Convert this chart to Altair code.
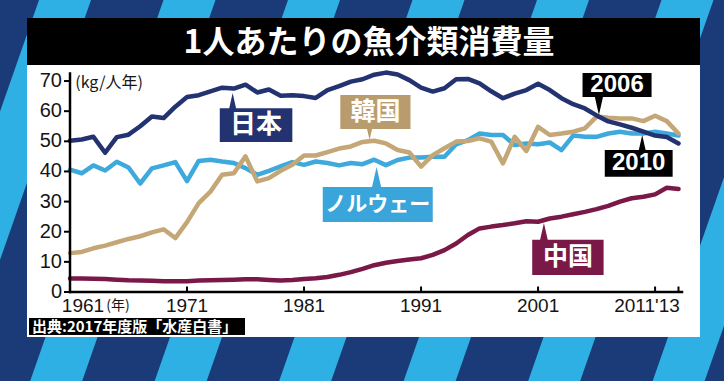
import altair as alt
import pandas as pd

# ---------------- data ----------------
years = list(range(1961, 2014))
japan = [50.2, 50.6, 51.5, 46.2, 51.4, 52.2, 55.0, 58.2, 57.7, 61.5,
         64.7, 65.3, 66.6, 67.8, 67.5, 68.8, 66.2, 67.2, 65.1, 65.3,
         65.0, 64.4, 67.0, 68.3, 69.8, 70.6, 72.1, 72.8, 72.2, 70.3,
         67.8, 66.5, 67.6, 70.6, 70.7, 69.2, 66.6, 64.3, 65.8, 67.0,
         69.1, 67.0, 64.3, 62.3, 60.9, 58.6, 56.6, 55.6, 54.5, 53.2,
         51.9, 51.4, 49.3]
korea = [12.9, 13.3, 14.5, 15.4, 16.5, 17.6, 18.5, 19.8, 20.8, 17.9,
         23.2, 29.5, 33.3, 38.9, 39.4, 45.0, 36.7, 37.8, 40.2, 42.2,
         45.3, 45.3, 46.4, 47.6, 48.3, 49.8, 50.2, 49.3, 47.1, 46.3,
         41.6, 45.4, 47.7, 49.9, 50.1, 51.0, 49.9, 42.7, 51.5, 46.8,
         54.8, 52.1, 52.6, 53.2, 54.3, 58.2, 57.8, 57.6, 57.6, 56.7,
         58.5, 56.7, 52.6]
norway = [40.6, 39.4, 42.0, 40.3, 43.2, 41.3, 36.0, 41.0, 42.0, 43.1,
          36.8, 43.5, 43.9, 43.3, 42.8, 41.1, 38.9, 40.2, 41.7, 43.1,
          42.2, 43.3, 42.8, 42.0, 42.8, 42.4, 43.9, 42.1, 43.8, 44.6,
          44.6, 44.9, 44.9, 49.0, 50.4, 52.6, 52.1, 52.1, 48.8, 49.3,
          49.0, 49.6, 47.1, 51.9, 51.5, 51.5, 52.6, 53.2, 52.6, 52.6,
          53.2, 52.6, 51.9]
china = [4.5, 4.5, 4.4, 4.3, 4.1, 3.9, 3.8, 3.7, 3.6, 3.6,
         3.6, 3.8, 3.9, 4.0, 4.1, 4.2, 4.2, 4.0, 3.8, 4.0,
         4.3, 4.6, 5.0, 5.7, 6.6, 7.7, 8.9, 9.7, 10.3, 10.8,
         11.2, 12.3, 13.9, 16.1, 18.9, 21.1, 21.7, 22.2, 22.8, 23.5,
         23.3, 24.4, 25.0, 25.8, 26.6, 27.5, 28.6, 30.0, 31.1, 31.6,
         32.4, 34.6, 34.2]
series_names = ["中国", "ノルウェー", "韓国", "日本"]
series_values = [china, norway, korea, japan]
y_ticks = [0, 10, 20, 30, 40, 50, 60, 70]
x_tick_years = [1971, 1981, 1991, 2001, 2011, 2013]
x_label_center = [1971, 1981, 1991, 2001]
title_text = "1人あたりの魚介類消費量"
source_text = "出典:2017年度版「水産白書」"
unit_text = "(kg/人年)"
callout_texts = ["日本", "韓国", "ノルウェー", "中国", "2006", "2010"]

# ---------------- styles / layout ----------------
series_colors = ["#7a1848", "#3ea9dc", "#c4a677", "#233270"]
callout_fills = ["#233270", "#b99c6e", "#3aa5da", "#7a1848", "#000000", "#000000"]
callout_fonts = [26, 25, 21, 25, 24, 24]
callout_font_family = ["Noto Sans CJK JP"] * 4 + ["Liberation Sans"] * 2
# boxes in data coordinates: x1, x2, ytop, ybottom, tip_x, tip_y
callout_boxes = [
    (1973.8, 1980.0, 61.0, 49.8, 1974.9, 66.0),
    (1984.1, 1990.1, 65.4, 54.1, 1986.6, 50.4),
    (1982.6, 1992.0, 34.8, 23.2, 1987.2, 41.5),
    (2000.5, 2006.6, 17.3, 5.6, 2001.5, 22.9),
    (2004.8, 2010.7, 72.7, 64.7, 2006.2, 58.7),
    (2006.7, 2012.5, 47.1, 38.2, 2009.9, 52.1),
]
X0, X1, Y0, Y1 = 1961, 2013.3, 0, 72.5
W, H = 612, 218.5
OX, OY = 70, 73.5            # plot origin on the page
PAGE_W, PAGE_H = 724, 381
PX_PER_UNIT = H / (Y1 - Y0)
PX_PER_YEAR = W / (X1 - X0)
DARK_BG, LIGHT_BG = "#1b3a78", "#2fb0e4"
INK = "#151515"


def page_to_data(px, py):
    return X0 + (px - OX) / PX_PER_YEAR, Y1 - (py - OY) / PX_PER_UNIT


# ---------------- tables ----------------
rows = []
for name, vals in zip(series_names, series_values):
    for yr, v in zip(years, vals):
        rows.append({"country": name, "year": yr, "value": v})
df = pd.DataFrame(rows)

# background stripes (page pixels converted to the chart's data units)
slope, period, light_w, x_at_top = 0.35, 124.5, 52, 39
stripes = []
for k in range(-2, 9):
    xc = x_at_top + light_w / 2 + k * period
    y_top, y_bot = -30, PAGE_H + 30
    ax, ay = page_to_data(xc - slope * y_top, y_top)
    bx, by = page_to_data(xc - slope * y_bot, y_bot)
    stripes.append({"sx": ax, "sy": ay, "sx2": bx, "sy2": by})
stripe_df = pd.DataFrame(stripes)
stripe_width = light_w / (1 + slope ** 2) ** 0.5

cal_rows, ptr_rows = [], []
for i, (x1, x2, yt, yb, tx, ty) in enumerate(callout_boxes):
    cal_rows.append({"x1": x1, "x2": x2, "yt": yt, "yb": yb,
                     "xm": (x1 + x2) / 2, "ym": (yt + yb) / 2,
                     "fill": callout_fills[i], "text": callout_texts[i],
                     "fs": callout_fonts[i], "ff": callout_font_family[i]})
    up = ty > yt
    base = yt if up else yb
    overlap = 3 / PX_PER_UNIT
    far = base - overlap if up else base + overlap
    side = abs(ty - far) * PX_PER_UNIT
    ptr_rows.append({"px": tx, "py": (ty + far) / 2, "psize": side ** 2,
                     "shape": "M-0.45,1L0,-1L0.45,1Z" if up else "M-0.45,-1L0,1L0.45,-1Z",
                     "fill": callout_fills[i]})
cal_df = pd.DataFrame(cal_rows)
ptr_df = pd.DataFrame(ptr_rows)

xscale = alt.Scale(domain=[X0, X1], nice=False, zero=False)
yscale = alt.Scale(domain=[Y0, Y1], nice=False)


def X(field):
    return alt.X(field, scale=xscale, axis=None)


def Y(field):
    return alt.Y(field, scale=yscale, axis=None)


def XD(v):
    return alt.XDatum(v, axis=None)


def YD(v):
    return alt.YDatum(v, axis=None)


# ---------------- layers ----------------
stripe_layer = alt.Chart(stripe_df).mark_rule(
    color=LIGHT_BG, strokeWidth=stripe_width, strokeCap="butt").encode(
    x=X("sx:Q"), y=Y("sy:Q"), x2="sx2:Q", y2="sy2:Q")

panel = alt.Chart().mark_rect(color="white").encode(
    x=alt.value(27 - OX), x2=alt.value(700 - OX),
    y=alt.value(65 - OY), y2=alt.value(337 - OY))
title_bar = alt.Chart().mark_rect(color="black").encode(
    x=alt.value(27 - OX), x2=alt.value(700 - OX),
    y=alt.value(18 - OY), y2=alt.value(65 - OY))
title = alt.Chart().mark_text(
    text=title_text, color="white", fontSize=32, fontWeight="bold",
    font="Noto Sans CJK JP", align="center", baseline="middle").encode(
    x=alt.value(369 - OX), y=alt.value(43 - OY))
src_box = alt.Chart().mark_rect(color="black").encode(
    x=alt.value(29 - OX), x2=alt.value(245 - OX),
    y=alt.value(318 - OY), y2=alt.value(335 - OY))
src_text = alt.Chart().mark_text(
    text=source_text, color="white", fontSize=15, fontWeight="bold",
    font="Noto Sans CJK JP", align="left", baseline="middle").encode(
    x=alt.value(32 - OX), y=alt.value(327 - OY))

lines = alt.Chart(df).mark_line(strokeWidth=4.5, strokeJoin="round", strokeCap="round").encode(
    x=X("year:Q"),
    y=Y("value:Q"),
    color=alt.Color("country:N", scale=alt.Scale(domain=series_names, range=series_colors),
                    legend=None),
    detail="country:N")

# axes drawn from the tick lists through the same scales
ytick_df = pd.DataFrame({"tick": y_ticks})
y_domain = alt.Chart().mark_rule(color="black", strokeWidth=2.5, strokeCap="square").encode(
    x=XD(X0), y=YD(Y0), y2=alt.datum(Y1))
x_domain = alt.Chart().mark_rule(color="black", strokeWidth=2.5, strokeCap="square").encode(
    y=YD(Y0), x=XD(X0), x2=alt.datum(X1))
y_tick_marks = alt.Chart(ytick_df).mark_rule(color="black", strokeWidth=2).encode(
    y=Y("tick:Q"), x=alt.value(-6), x2=alt.value(0))
y_tick_labels = alt.Chart(ytick_df).mark_text(
    font="Liberation Sans", fontSize=20, color=INK, align="right", baseline="middle").encode(
    y=Y("tick:Q"), x=alt.value(-8), text=alt.Text("tick:Q", format="d"))

tick_df = pd.DataFrame({"year": x_tick_years})
xticks = alt.Chart(tick_df).mark_rule(color="black", strokeWidth=2).encode(
    x=X("year:Q"), y=YD(0), y2=alt.datum(5.5 / PX_PER_UNIT))

lab_font = dict(font="Liberation Sans", fontSize=19, color=INK, baseline="middle", dy=14)
xlab_c = alt.Chart(pd.DataFrame({"year": x_label_center})).mark_text(align="center", **lab_font).encode(
    x=X("year:Q"), y=YD(0), text=alt.Text("year:Q", format="d"))
xlab_1961 = alt.Chart().mark_text(align="left", text="1961", **lab_font).encode(
    x=XD(1960.3), y=YD(0))
xlab_nen = alt.Chart().mark_text(align="left", text="(年)", font="Noto Sans CJK JP",
                                 fontSize=14, color=INK, baseline="middle", dy=14).encode(
    x=XD(1964.1), y=YD(0))
xlab_2011 = alt.Chart().mark_text(align="right", text="2011", **lab_font).encode(
    x=XD(2011.0), y=YD(0))
xlab_13 = alt.Chart().mark_text(align="left", text="'13", **lab_font).encode(
    x=XD(2011.0), y=YD(0))
unit = alt.Chart().mark_text(align="left", text=unit_text, font="Noto Sans CJK JP",
                             fontSize=16, color=INK, baseline="middle").encode(
    x=XD(1961.45), y=YD(69.4))

cal_rect = alt.Chart(cal_df).mark_rect().encode(
    x=X("x1:Q"), x2="x2:Q", y=Y("yt:Q"), y2="yb:Q",
    color=alt.Color("fill:N", scale=None))
cal_ptr = alt.Chart(ptr_df).mark_point(filled=True, opacity=1, strokeWidth=0).encode(
    x=X("px:Q"), y=Y("py:Q"),
    shape=alt.Shape("shape:N", scale=None),
    size=alt.Size("psize:Q", scale=None),
    color=alt.Color("fill:N", scale=None))
cal_text_layers = []
for fam in ["Noto Sans CJK JP", "Liberation Sans"]:
    sub = cal_df[cal_df["ff"] == fam]
    for fs in sorted(sub["fs"].unique()):
        part = sub[sub["fs"] == fs]
        cal_text_layers.append(
            alt.Chart(part).mark_text(color="white", fontWeight="bold", font=fam,
                                      fontSize=int(fs), align="center", baseline="middle").encode(
                x=X("xm:Q"), y=Y("ym:Q"), text="text:N"))

chart = alt.layer(
    stripe_layer, panel, title_bar, title, src_box, src_text,
    lines, y_domain, x_domain, y_tick_marks, y_tick_labels,
    xticks, xlab_c, xlab_1961, xlab_nen, xlab_2011, xlab_13, unit,
    cal_rect, cal_ptr, *cal_text_layers
).properties(
    width=W, height=H,
    autosize="none",
    padding={"left": OX, "top": OY, "right": PAGE_W - OX - W, "bottom": PAGE_H - OY - H},
    background=DARK_BG,
).configure_view(stroke=None)

chart.save("out.html", embed_options={"renderer": "svg", "actions": False})
